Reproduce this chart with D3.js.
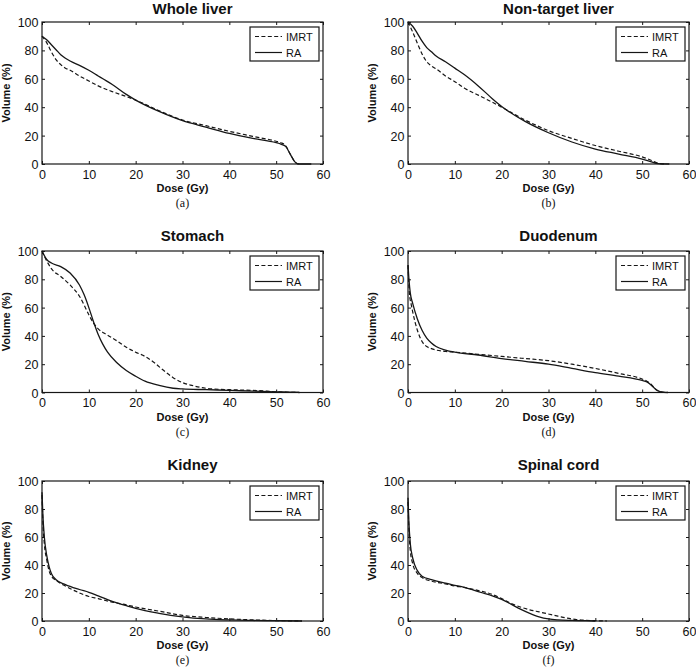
<!DOCTYPE html>
<html>
<head>
<meta charset="utf-8">
<script src="https://cdn.jsdelivr.net/npm/d3@7"></script>
<style>
  html, body { margin: 0; padding: 0; background: #fff; }
  svg { display: block; }
  text { font-family: "Liberation Sans", Arial, Helvetica, sans-serif; fill: #111; }
</style>
</head>
<body>
<svg id="chart" width="696" height="672"></svg>
<script>
// ---------------- data ----------------
const panelTitles = ["Whole liver", "Non-target liver", "Stomach", "Duodenum", "Kidney", "Spinal cord"];
const panelLetters = ["(a)", "(b)", "(c)", "(d)", "(e)", "(f)"];
const seriesNames = ["IMRT", "RA"];
const xTicks = [0, 10, 20, 30, 40, 50, 60];
const yTicks = [0, 20, 40, 60, 80, 100];
const xLabel = "Dose (Gy)";
const yLabel = "Volume (%)";

// [dose (Gy), volume (%)]
const wholeLiverIMRT = [[0,90],[1,85.5],[2,79],[3,73.5],[4,70],[5,67.5],[6,66],[8,62],[10,58.5],[12,55],[15,51],[18,47.5],[20,45],[25,37.5],[30,31],[35,27],[40,23],[45,19.5],[50,16],[51,15],[52,13],[53,7],[54,1.5],[54.5,0.3],[55,0]];
const wholeLiverRA   = [[0,90],[1,87.5],[2,84],[3,80.5],[4,77],[5,74.5],[6,72.5],[8,69.5],[10,66],[12,62],[13,60],[15,56],[18,49],[20,45],[25,37],[30,30.5],[35,26],[40,21.5],[45,18],[50,15],[51,14],[52,12.5],[53,7],[54,1.5],[54.5,0.3],[55,0],[57.5,0]];

const nonTargetLiverIMRT = [[0,100],[1,93],[2,85],[3,77.5],[4,72],[5,69],[6,67],[8,62],[10,58],[12,53.5],[15,48.5],[18,43.5],[20,40],[25,31],[30,23.5],[35,18],[40,13],[45,9],[50,5],[52,2.5],[53,1],[54,0.2],[55,0]];
const nonTargetLiverRA   = [[0,100],[1,97],[2,92],[3,86.5],[4,82],[5,79],[6,76],[8,72],[10,67.5],[12,63],[15,55],[18,46],[20,40.5],[25,30],[30,22],[35,15.5],[40,10.5],[45,7],[50,3.5],[52,1.5],[53,0.4],[54,0.1],[55.8,0]];

const stomachIMRT = [[0,100],[1,93],[2,87.5],[4,82],[6,76],[8,68],[10,55],[11,49],[12,45],[14,40.5],[16,36.5],[18,32],[20,28.5],[22,25.5],[24,21],[26,15.5],[28,10.5],[30,7],[32,5],[35,3],[40,2],[45,1.5],[48,1],[50,0.5],[55,0]];
const stomachRA   = [[0,100],[1,94],[2,91.5],[4,89],[6,84.5],[8,76],[9,69],[10,60],[11,50],[12,41],[13,34],[14,28.5],[16,21],[18,15.5],[20,11.5],[22,8],[25,5],[28,3],[30,2.5],[35,2],[40,1.5],[45,1],[50,0.5],[54,0.2],[55,0]];

const duodenumIMRT = [[0,90],[0.3,70],[0.7,62],[1,57],[2,44],[3,36],[4,32.5],[5,31],[6,30],[8,29],[10,28.5],[15,27],[20,25.5],[25,24],[30,22.5],[35,20],[40,17],[45,13.5],[50,9.5],[51,8],[52,5.5],[53,2],[54,0.5],[55.5,0]];
const duodenumRA   = [[0,90],[0.2,80],[0.5,70],[1,63],[2,52],[3,44],[4,38.5],[5,35],[6,32.5],[8,30],[10,28.5],[15,26.5],[20,24],[25,22],[30,20],[35,17],[40,14],[45,11.5],[50,8.5],[51,7.5],[52,5],[53,2],[54,0.5],[55.5,0]];

const kidneyIMRT = [[0,90],[0.2,70],[0.5,55],[1,44],[1.5,36],[2,32],[3,29],[5,25],[8,20],[10,17.5],[12,16],[15,13.5],[18,11.5],[20,10],[25,7],[30,4],[35,2.5],[40,1.5],[45,0.8],[50,0.3],[55.5,0]];
const kidneyRA   = [[0,92],[0.2,75],[0.5,60],[1,47],[1.5,39],[2,34],[3,29.5],[5,26],[8,22.5],[10,20.5],[12,18],[15,14],[18,11],[20,9],[25,5.5],[30,3],[35,1.5],[40,0.8],[45,0.4],[50,0.2],[55.5,0]];

const spinalCordIMRT = [[0,85],[0.2,65],[0.5,50],[1,41],[2,34],[3,31],[5,28.5],[8,26.5],[10,25],[12,24],[14,22.5],[16,21],[18,19],[20,16],[22,12.5],[24,10],[26,8],[28,6.5],[30,5],[32,3.5],[34,2],[36,1],[38,0.5],[40,0.2],[42.5,0]];
const spinalCordRA   = [[0,88],[0.2,70],[0.5,55],[1,45],[2,36],[3,32],[5,29.5],[8,27],[10,25.5],[12,24],[14,22],[16,20],[18,18],[20,15.5],[22,12],[24,8.5],[26,5.5],[28,3],[30,1.5],[32,0.8],[35,0.4],[38,0.2],[40,0]];

const imrtSeries = [wholeLiverIMRT, nonTargetLiverIMRT, stomachIMRT, duodenumIMRT, kidneyIMRT, spinalCordIMRT];
const raSeries   = [wholeLiverRA, nonTargetLiverRA, stomachRA, duodenumRA, kidneyRA, spinalCordRA];

// ---------------- layout ----------------
const cols = [{x0: 42, x1: 323}, {x0: 408, x1: 689}];
const rows = [
  {y0: 22,  y1: 164,   titleY: 14},
  {y0: 251, y1: 392.5, titleY: 241},
  {y0: 481, y1: 621,   titleY: 469.5}
];
const ink = "#161616";
const dashStyle = "4,2.4";

const svg = d3.select("#chart");

panelTitles.forEach((title, i) => {
  const c = cols[i % 2], r = rows[Math.floor(i / 2)];
  const x = d3.scaleLinear().domain([0, 60]).range([c.x0, c.x1]);
  const y = d3.scaleLinear().domain([0, 100]).range([r.y1, r.y0]);
  const g = svg.append("g");

  // frame
  g.append("rect").attr("x", c.x0).attr("y", r.y0)
    .attr("width", c.x1 - c.x0).attr("height", r.y1 - r.y0)
    .attr("fill", "none").attr("stroke", ink).attr("stroke-width", 1.2);

  // axes with inward ticks on all four sides
  const tl = 3;
  const axB = g.append("g").attr("transform", `translate(0,${r.y1})`)
    .call(d3.axisBottom(x).tickValues(xTicks).tickSize(-tl).tickPadding(5).tickFormat(d3.format("d")));
  const axT = g.append("g").attr("transform", `translate(0,${r.y0})`)
    .call(d3.axisTop(x).tickValues(xTicks).tickSize(-tl).tickFormat(""));
  const axL = g.append("g").attr("transform", `translate(${c.x0},0)`)
    .call(d3.axisLeft(y).tickValues(yTicks).tickSize(-tl).tickPadding(4).tickFormat(d3.format("d")));
  const axR = g.append("g").attr("transform", `translate(${c.x1},0)`)
    .call(d3.axisRight(y).tickValues(yTicks).tickSize(-tl).tickFormat(""));
  [axB, axT, axL, axR].forEach(a => {
    a.select(".domain").remove();
    a.selectAll(".tick line").attr("stroke", ink).attr("stroke-width", 1);
    a.selectAll("text").attr("font-size", 12.5).attr("fill", ink)
      .attr("font-family", "'Liberation Sans', Arial, sans-serif");
  });
  axB.selectAll("text").attr("dy", null).attr("y", 14.5);
  axL.selectAll("text").attr("dy", "0.36em").attr("x", -3.5);

  // curves
  const line = d3.line().x(d => x(d[0])).y(d => y(d[1])).curve(d3.curveMonotoneX);
  g.append("path").datum(imrtSeries[i]).attr("d", line)
    .attr("fill", "none").attr("stroke", ink).attr("stroke-width", 1.2)
    .attr("stroke-dasharray", dashStyle);
  g.append("path").datum(raSeries[i]).attr("d", line)
    .attr("fill", "none").attr("stroke", ink).attr("stroke-width", 1.3);

  // title
  g.append("text").attr("x", (c.x0 + c.x1) / 2 + 10).attr("y", r.titleY)
    .attr("text-anchor", "middle").attr("font-size", 15).attr("font-weight", "bold")
    .text(title);

  // axis labels
  g.append("text").attr("x", (c.x0 + c.x1) / 2).attr("y", r.y1 + 28)
    .attr("text-anchor", "middle").attr("font-size", 11).attr("font-weight", "bold")
    .text(xLabel);
  g.append("text")
    .attr("transform", `translate(${c.x0 - 32},${(r.y0 + r.y1) / 2}) rotate(-90)`)
    .attr("text-anchor", "middle").attr("font-size", 11).attr("font-weight", "bold")
    .text(yLabel);

  // sub-figure letter
  g.append("text").attr("x", (c.x0 + c.x1) / 2).attr("y", r.y1 + 43)
    .attr("text-anchor", "middle").attr("font-size", 12)
    .style("font-family", "'Liberation Serif', 'Times New Roman', serif")
    .text(panelLetters[i]);

  // legend
  const lw = 69, lh = 34;
  const lx = c.x1 - 4 - lw, ly = r.y0 + 5;
  const lg = g.append("g");
  lg.append("rect").attr("x", lx).attr("y", ly).attr("width", lw).attr("height", lh)
    .attr("fill", "#fff").attr("stroke", ink).attr("stroke-width", 1.2);
  seriesNames.forEach((name, k) => {
    const yy = ly + 9.5 + k * 16;
    lg.append("line").attr("x1", lx + 5).attr("x2", lx + 32).attr("y1", yy).attr("y2", yy)
      .attr("stroke", ink).attr("stroke-width", 1.2)
      .attr("stroke-dasharray", k === 0 ? dashStyle : null);
    lg.append("text").attr("x", lx + 36).attr("y", yy + 4).attr("font-size", 11).text(name);
  });
});
</script>
</body>
</html>
